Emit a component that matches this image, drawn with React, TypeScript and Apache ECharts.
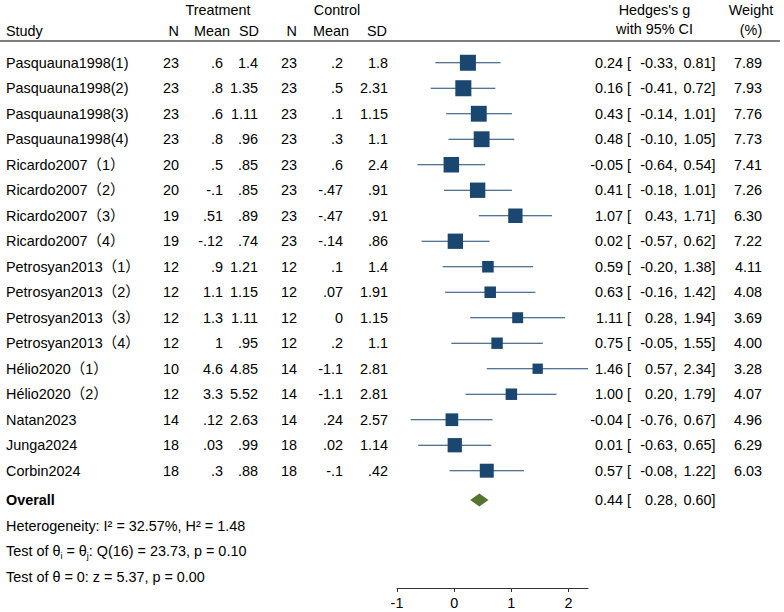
import React, { useEffect, useRef } from "react";
import * as echarts from "echarts";

// ---------- data ----------
const studies = [
  "Pasquauna1998(1)", "Pasquauna1998(2)", "Pasquauna1998(3)", "Pasquauna1998(4)",
  "Ricardo2007（1）", "Ricardo2007（2）", "Ricardo2007（3）", "Ricardo2007（4）",
  "Petrosyan2013（1）", "Petrosyan2013（2）", "Petrosyan2013（3）", "Petrosyan2013（4）",
  "Hélio2020（1）", "Hélio2020（2）", "Natan2023", "Junga2024", "Corbin2024",
];
const treatN = ["23", "23", "23", "23", "20", "20", "19", "19", "12", "12", "12", "12", "10", "12", "14", "18", "18"];
const treatMean = [".6", ".8", ".6", ".8", ".5", "-.1", ".51", "-.12", ".9", "1.1", "1.3", "1", "4.6", "3.3", ".12", ".03", ".3"];
const treatSD = ["1.4", "1.35", "1.11", ".96", ".85", ".85", ".89", ".74", "1.21", "1.15", "1.11", ".95", "4.85", "5.52", "2.63", ".99", ".88"];
const ctrlN = ["23", "23", "23", "23", "23", "23", "23", "23", "12", "12", "12", "12", "14", "14", "14", "18", "18"];
const ctrlMean = [".2", ".5", ".1", ".3", ".6", "-.47", "-.47", "-.14", ".1", ".07", "0", ".2", "-1.1", "-1.1", ".24", ".02", "-.1"];
const ctrlSD = ["1.8", "2.31", "1.15", "1.1", "2.4", ".91", ".91", ".86", "1.4", "1.91", "1.15", "1.1", "2.81", "2.81", "2.57", "1.14", ".42"];
const hedgesG = [0.24, 0.16, 0.43, 0.48, -0.05, 0.41, 1.07, 0.02, 0.59, 0.63, 1.11, 0.75, 1.46, 1.0, -0.04, 0.01, 0.57];
const ciLow = [-0.33, -0.41, -0.14, -0.1, -0.64, -0.18, 0.43, -0.57, -0.2, -0.16, 0.28, -0.05, 0.57, 0.2, -0.76, -0.63, -0.08];
const ciHigh = [0.81, 0.72, 1.01, 1.05, 0.54, 1.01, 1.71, 0.62, 1.38, 1.42, 1.94, 1.55, 2.34, 1.79, 0.67, 0.65, 1.22];
const weights = [7.89, 7.93, 7.76, 7.73, 7.41, 7.26, 6.3, 7.22, 4.11, 4.08, 3.69, 4.0, 3.28, 4.07, 4.96, 6.29, 6.03];
const overall = { g: 0.44, low: 0.28, high: 0.6 };
const footerLines = [
  "Heterogeneity: I² = 32.57%, H² = 1.48",
  "Test of θ{s|i} = θ{s|j}: Q(16) = 23.73, p = 0.10",
  "Test of θ = 0: z = 5.37, p = 0.00",
];
const axisTicks = [-1, 0, 1, 2];

// ---------- layout ----------
const FONT_FAMILY = '"Liberation Sans", Arial, Helvetica, "Noto Sans CJK SC", sans-serif';
const FS = 14.4;
const NAVY = "#1a476f";
const GREEN = "#55752f";
const OVERALL_ROW = 17.15;

const cols = {
  study: 6,
  tN: 179,
  tMean: 223,
  tSD: 258,
  cN: 297,
  cMean: 343,
  cSD: 388,
  est: 623,
  lb: 627,
  low: 673,
  comma: 673.5,
  high: 711.5,
  rb: 711.5,
  wt: 762,
};

const fmt = (v: number) => v.toFixed(2);

function txt(text: string, x: number, y: number, align: string, extra: any = {}) {
  return {
    type: "text",
    style: {
      text,
      x,
      y,
      align,
      verticalAlign: "middle",
      fontSize: FS,
      fontFamily: FONT_FAMILY,
      fill: "#000",
      ...extra,
    },
  };
}

function ciTexts(est: number, low: number, high: number, y: number) {
  return [
    txt(fmt(est), cols.est, y, "right"),
    txt("[", cols.lb, y, "left"),
    txt(fmt(low), cols.low, y, "right"),
    txt(",", cols.comma, y, "left"),
    txt(fmt(high), cols.high, y, "right"),
    txt("]", cols.rb, y, "left"),
  ];
}

export default function App() {
  const ref = useRef<HTMLDivElement>(null);
  useEffect(() => {
    const chart = echarts.init(ref.current!, null, { renderer: "svg" });
    const rowIdx = studies.map((_, i) => i);

    const option: any = {
      animation: false,
      backgroundColor: "#fff",
      grid: { left: 397, width: 191, top: 50, height: 538, containLabel: false },
      xAxis: {
        type: "value",
        min: -1,
        max: 2.34,
        splitLine: { show: false },
        axisLine: { show: true, onZero: false, lineStyle: { color: "#333", width: 1 } },
        axisTick: { show: true, length: 4, lineStyle: { color: "#333" }, customValues: axisTicks },
        axisLabel: {
          customValues: axisTicks,
          color: "#000",
          fontSize: FS,
          fontFamily: FONT_FAMILY,
          margin: 8,
        },
      },
      yAxis: { type: "value", inverse: true, min: -0.5, max: 20.6, show: false },
      graphic: [
        { ...txt("Treatment", 218, 10, "center") },
        { ...txt("Control", 337, 10, "center") },
        { ...txt("Study", cols.study, 31, "left") },
        { ...txt("N", 179, 31, "right") },
        { ...txt("Mean", 230, 31, "right") },
        { ...txt("SD", 259, 31, "right") },
        { ...txt("N", 297, 31, "right") },
        { ...txt("Mean", 349, 31, "right") },
        { ...txt("SD", 387, 31, "right") },
        { ...txt("Hedges's g", 654.5, 10, "center") },
        { ...txt("with 95% CI", 654.5, 29, "center") },
        { ...txt("Weight", 751, 10, "center") },
        { ...txt("(%)", 751, 29.5, "center") },
        {
          type: "line",
          shape: { x1: 0, y1: 41, x2: 780, y2: 41 },
          style: { stroke: "#000", lineWidth: 1.2 },
        },
      ],
      series: [
        {
          type: "custom",
          name: "studies",
          clip: false,
          data: rowIdx.map((i) => [hedgesG[i], i, ciLow[i], ciHigh[i], weights[i]]),
          encode: { x: [0, 2, 3], y: 1 },
          renderItem: (params: any, api: any) => {
            const est = api.value(0);
            const r = api.value(1);
            const lo = api.value(2);
            const hi = api.value(3);
            const wt = api.value(4);
            const pLo = api.coord([lo, r]);
            const pHi = api.coord([hi, r]);
            const pE = api.coord([est, r]);
            const s = 5.7 * Math.sqrt(wt);
            return {
              type: "group",
              children: [
                {
                  type: "line",
                  shape: { x1: pLo[0], y1: pLo[1], x2: pHi[0], y2: pHi[1] },
                  style: { stroke: NAVY, lineWidth: 1.1 },
                },
                {
                  type: "rect",
                  shape: { x: pE[0] - s / 2, y: pE[1] - s / 2, width: s, height: s },
                  style: { fill: NAVY },
                },
              ],
            };
          },
        },
        {
          type: "custom",
          name: "table",
          clip: false,
          silent: true,
          data: rowIdx.map((i) => [-1, i]),
          encode: { x: 0, y: 1 },
          renderItem: (params: any, api: any) => {
            const i = params.dataIndex;
            const y = api.coord([0, api.value(1)])[1];
            return {
              type: "group",
              children: [
                txt(studies[i], cols.study, y, "left"),
                txt(treatN[i], cols.tN, y, "right"),
                txt(treatMean[i], cols.tMean, y, "right"),
                txt(treatSD[i], cols.tSD, y, "right"),
                txt(ctrlN[i], cols.cN, y, "right"),
                txt(ctrlMean[i], cols.cMean, y, "right"),
                txt(ctrlSD[i], cols.cSD, y, "right"),
                ...ciTexts(hedgesG[i], ciLow[i], ciHigh[i], y),
                txt(weights[i].toFixed(2), cols.wt, y, "right"),
              ],
            };
          },
        },
        {
          type: "custom",
          name: "overall",
          clip: false,
          data: [[overall.g, OVERALL_ROW, overall.low, overall.high]],
          encode: { x: [0, 2, 3], y: 1 },
          renderItem: (params: any, api: any) => {
            const est = api.value(0);
            const r = api.value(1);
            const pLo = api.coord([api.value(2), r]);
            const pHi = api.coord([api.value(3), r]);
            const pE = api.coord([est, r]);
            const h = 6.5;
            return {
              type: "group",
              children: [
                {
                  type: "polygon",
                  shape: {
                    points: [
                      [pLo[0], pLo[1]],
                      [pE[0], pE[1] - h],
                      [pHi[0], pHi[1]],
                      [pE[0], pE[1] + h],
                    ],
                  },
                  style: { fill: GREEN },
                },
                txt("Overall", cols.study, pE[1], "left", { fontWeight: "bold" }),
                ...ciTexts(overall.g, overall.low, overall.high, pE[1]),
              ],
            };
          },
        },
        {
          type: "custom",
          name: "footer",
          clip: false,
          silent: true,
          data: footerLines.map((_, k) => [-1, OVERALL_ROW + 1 + k]),
          encode: { x: 0, y: 1 },
          renderItem: (params: any, api: any) => {
            const y = api.coord([0, api.value(1)])[1];
            return txt(footerLines[params.dataIndex], cols.study, y, "left", {
              rich: {
                s: {
                  fontSize: 9,
                  fontFamily: FONT_FAMILY,
                  fill: "#000",
                  verticalAlign: "bottom",
                  lineHeight: 9,
                  padding: [0, 0, -2, 0],
                },
              },
            });
          },
        },
      ],
    };
    chart.setOption(option);
    return () => chart.dispose();
  }, []);
  return (
    <div
      ref={ref}
      style={{ position: "fixed", left: 0, top: 0, width: 784, height: 612, background: "#fff" }}
    />
  );
}
